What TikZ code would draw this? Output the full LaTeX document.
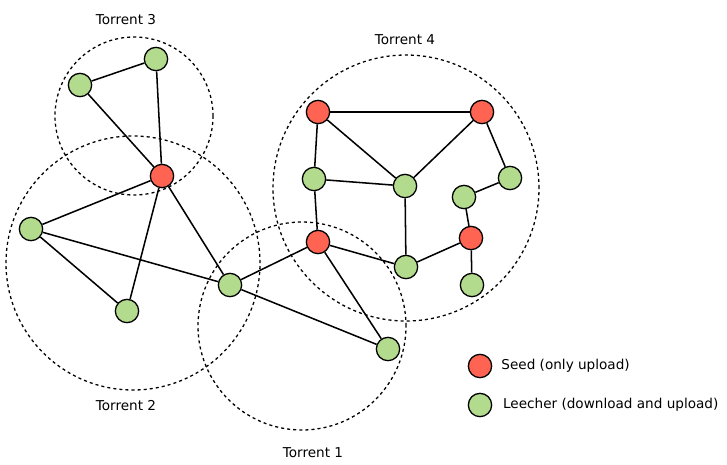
\documentclass[tikz,border=0pt]{standalone}
\usepackage{fontspec}
\setmainfont{DejaVu Sans}
\usepackage{tikz}
\usetikzlibrary{positioning}
\definecolor{SeedRed}{HTML}{FF6352}
\definecolor{LeechGreen}{HTML}{B3DB8D}

\begin{document}
\begin{tikzpicture}[x=0.03cm,y=-0.03cm,
    torrent/.style={circle,draw,dash pattern=on 2.6pt off 2.6pt,line width=1.1pt,inner sep=0pt},
    seed/.style={circle,draw,fill=SeedRed,line width=1.1pt,minimum size=0.7cm,inner sep=0pt},
    leecher/.style={circle,draw,fill=LeechGreen,line width=1.1pt,minimum size=0.7cm,inner sep=0pt},
    link/.style={line width=1.3pt},
    lbl/.style={font=\fontsize{11.6}{14}\selectfont}
]
\useasboundingbox (0,0) rectangle (727,464);
% torrent areas
\node[torrent,minimum size=158*0.03cm] (t3) at (134,116) {};
\node[torrent,minimum size=254*0.03cm] (t2) at (133,263) {};
\node[torrent,minimum size=208*0.03cm] (t1) at (302,326) {};
\node[torrent,minimum size=266*0.03cm] (t4) at (406,188) {};
\node[lbl] (t3l) at (126,20) {Torrent 3};
\node[lbl] (t2l) at (126,406) {Torrent 2};
\node[lbl] (t1l) at (313,453) {Torrent 1};
\node[lbl] (t4l) at (405,40) {Torrent 4};
% peers
\node[leecher] (a1) at (80,85) {};
\node[leecher] (a2) at (156,59) {};
\node[seed] (s1) at (162,176) {};
\node[leecher] (b1) at (31,229) {};
\node[leecher] (b2) at (127,311) {};
\node[leecher] (m) at (230,285) {};
\node[seed] (s2) at (318,242) {};
\node[leecher] (c1) at (388,349) {};
\node[seed] (s3) at (318,112) {};
\node[seed] (s4) at (482,112) {};
\node[leecher] (d1) at (314,179) {};
\node[leecher] (d2) at (405,186) {};
\node[leecher] (d3) at (510,178) {};
\node[leecher] (d4) at (464,197) {};
\node[seed] (s5) at (471,238) {};
\node[leecher] (d5) at (472,285) {};
\node[leecher] (d6) at (406,267) {};
% links
\draw[link] (a1) -- (a2);
\draw[link] (a1) -- (s1);
\draw[link] (a2) -- (s1);
\draw[link] (s1) -- (b1);
\draw[link] (s1) -- (b2);
\draw[link] (s1) -- (m);
\draw[link] (b1) -- (b2);
\draw[link] (b1) -- (m);
\draw[link] (m) -- (s2);
\draw[link] (m) -- (c1);
\draw[link] (s2) -- (c1);
\draw[link] (s2) -- (d1);
\draw[link] (s2) -- (d6);
\draw[link] (s3) -- (s4);
\draw[link] (s3) -- (d1);
\draw[link] (s3) -- (d2);
\draw[link] (d1) -- (d2);
\draw[link] (d2) -- (s4);
\draw[link] (d2) -- (d6);
\draw[link] (s4) -- (d3);
\draw[link] (d3) -- (d4);
\draw[link] (d4) -- (s5);
\draw[link] (s5) -- (d5);
\draw[link] (s5) -- (d6);
% legend
\node[seed] (ks) at (480,366) {};
\node[leecher] (kl) at (480,405) {};
\node[lbl,right=0.15cm of ks] (kst) {Seed (only upload)};
\node[lbl,right=0.2cm of kl] (klt) {Leecher (download and upload)};
\end{tikzpicture}
\end{document}
